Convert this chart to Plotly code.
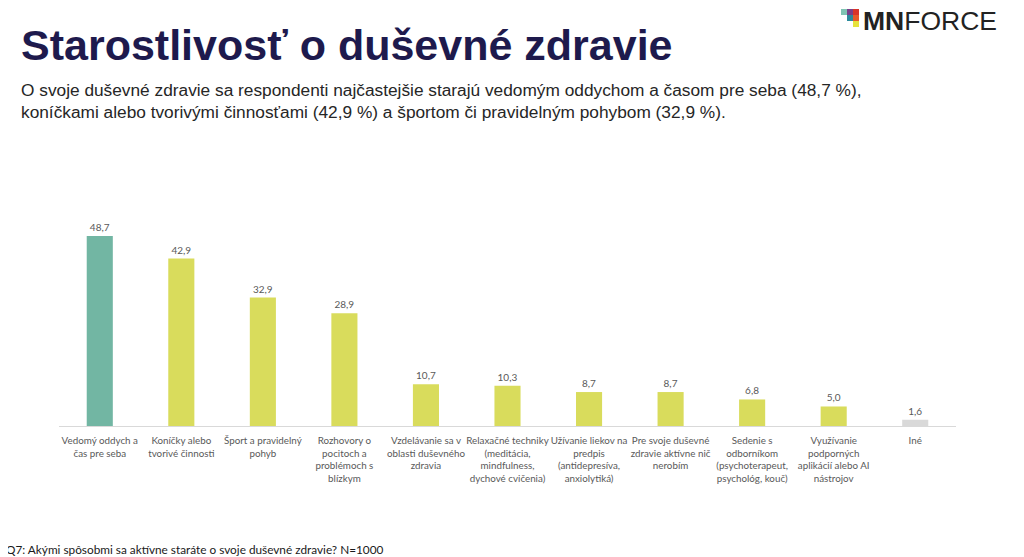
import plotly.graph_objects as go

categories = [
    "Vedomý oddych a<br>čas pre seba",
    "Koníčky alebo<br>tvorivé činnosti",
    "Šport a pravidelný<br>pohyb",
    "Rozhovory o<br>pocitoch a<br>problémoch s<br>blízkym",
    "Vzdelávanie sa v<br>oblasti duševného<br>zdravia",
    "Relaxačné techniky<br>(meditácia,<br>mindfulness,<br>dychové cvičenia)",
    "Užívanie liekov na<br>predpis<br>(antidepresíva,<br>anxiolytiká)",
    "Pre svoje duševné<br>zdravie aktívne nič<br>nerobím",
    "Sedenie s<br>odborníkom<br>(psychoterapeut,<br>psychológ, kouč)",
    "Využívanie<br>podporných<br>aplikácií alebo AI<br>nástrojov",
    "Iné",
]
values = [48.7, 42.9, 32.9, 28.9, 10.7, 10.3, 8.7, 8.7, 6.8, 5.0, 1.6]
value_labels = ["48,7", "42,9", "32,9", "28,9", "10,7", "10,3", "8,7", "8,7", "6,8", "5,0", "1,6"]
colors = ["#72b6a3"] + ["#d9dc5c"] * 9 + ["#d9d9d9"]

title = "Starostlivosť o duševné zdravie"
subtitle = ("O svoje duševné zdravie sa respondenti najčastejšie starajú vedomým oddychom a časom pre seba (48,7 %),<br>"
            "koníčkami alebo tvorivými činnosťami (42,9 %) a športom či pravidelným pohybom (32,9 %).")
footnote = "Q7: Akými spôsobmi sa aktívne staráte o svoje duševné zdravie? N=1000"

# page offset compensation (page body margin)
OFF = 8
W, H = 1024 - OFF, 557 - OFF
L, R, T, B = 59 - OFF, 1024 - 956, 200 - OFF, 557 - 426
pw = W - L - R
ph = H - T - B


def px_x(x):
    return (x - OFF - L) / pw


def px_y(y):
    return (H - B - (y - OFF)) / ph


fig = go.Figure(go.Bar(
    x=list(range(len(categories))),
    y=values,
    marker=dict(color=colors, line=dict(width=0)),
    text=value_labels,
    textposition="outside",
    textfont=dict(family="Lato, Open Sans, sans-serif", size=10, color="#595959"),
    cliponaxis=False,
    width=0.32,
))

fig.update_layout(
    width=W, height=H,
    margin=dict(l=L, r=R, t=T, b=B),
    paper_bgcolor="white", plot_bgcolor="white",
    showlegend=False,
    xaxis=dict(
        tickmode="array", tickvals=list(range(len(categories))), ticktext=categories,
        tickangle=0, range=[-0.5, len(categories) - 0.5],
        showline=True, linecolor="#d9d9d9", linewidth=1,
        showgrid=False, zeroline=False, ticks="",
        ticklabelstandoff=5,
        tickfont=dict(family="Lato, Open Sans, sans-serif", size=9.8, color="#595959"),
    ),
    yaxis=dict(range=[0, 57.9], visible=False, showgrid=False, zeroline=False),
    annotations=[
        dict(text="<b>" + title + "</b>", x=px_x(19), y=px_y(45), xref="paper", yref="paper",
             showarrow=False, xanchor="left", yanchor="middle",
             font=dict(family="Liberation Sans, Arial, sans-serif", size=43, color="#1e1a4d")),
        dict(text=subtitle, x=px_x(19), y=px_y(101), xref="paper", yref="paper",
             showarrow=False, xanchor="left", yanchor="middle", align="left",
             font=dict(family="Liberation Sans, Arial, sans-serif", size=17.3, color="#262626")),
        dict(text=footnote, x=px_x(4), y=px_y(549), xref="paper", yref="paper",
             showarrow=False, xanchor="left", yanchor="middle",
             font=dict(family="Lato, Open Sans, sans-serif", size=11.8, color="#1a1a1a")),
        dict(text="<b>MN</b>FORCE", x=px_x(861), y=px_y(21), xref="paper", yref="paper",
             showarrow=False, xanchor="left", yanchor="middle",
             font=dict(family="Liberation Sans, Arial, sans-serif", size=26.5, color="#222222")),
    ],
)

# logo squares (pixel coords of the reference, nudged below page margin)
squares = [
    (841, 9, "#7fc3b2"), (847, 9, "#7a3f8a"), (853, 9, "#d8342a"),
    (847, 15, "#2b8a9c"), (853, 15, "#e55a2b"),
    (853, 21, "#e6e23c"),
]
for (sx, sy, c) in squares:
    fig.add_shape(type="rect", xref="paper", yref="paper",
                  x0=px_x(sx), x1=px_x(sx + 6),
                  y0=px_y(sy), y1=px_y(sy + 6),
                  fillcolor=c, line=dict(width=0), layer="above")

fig.write_html("out.html")
